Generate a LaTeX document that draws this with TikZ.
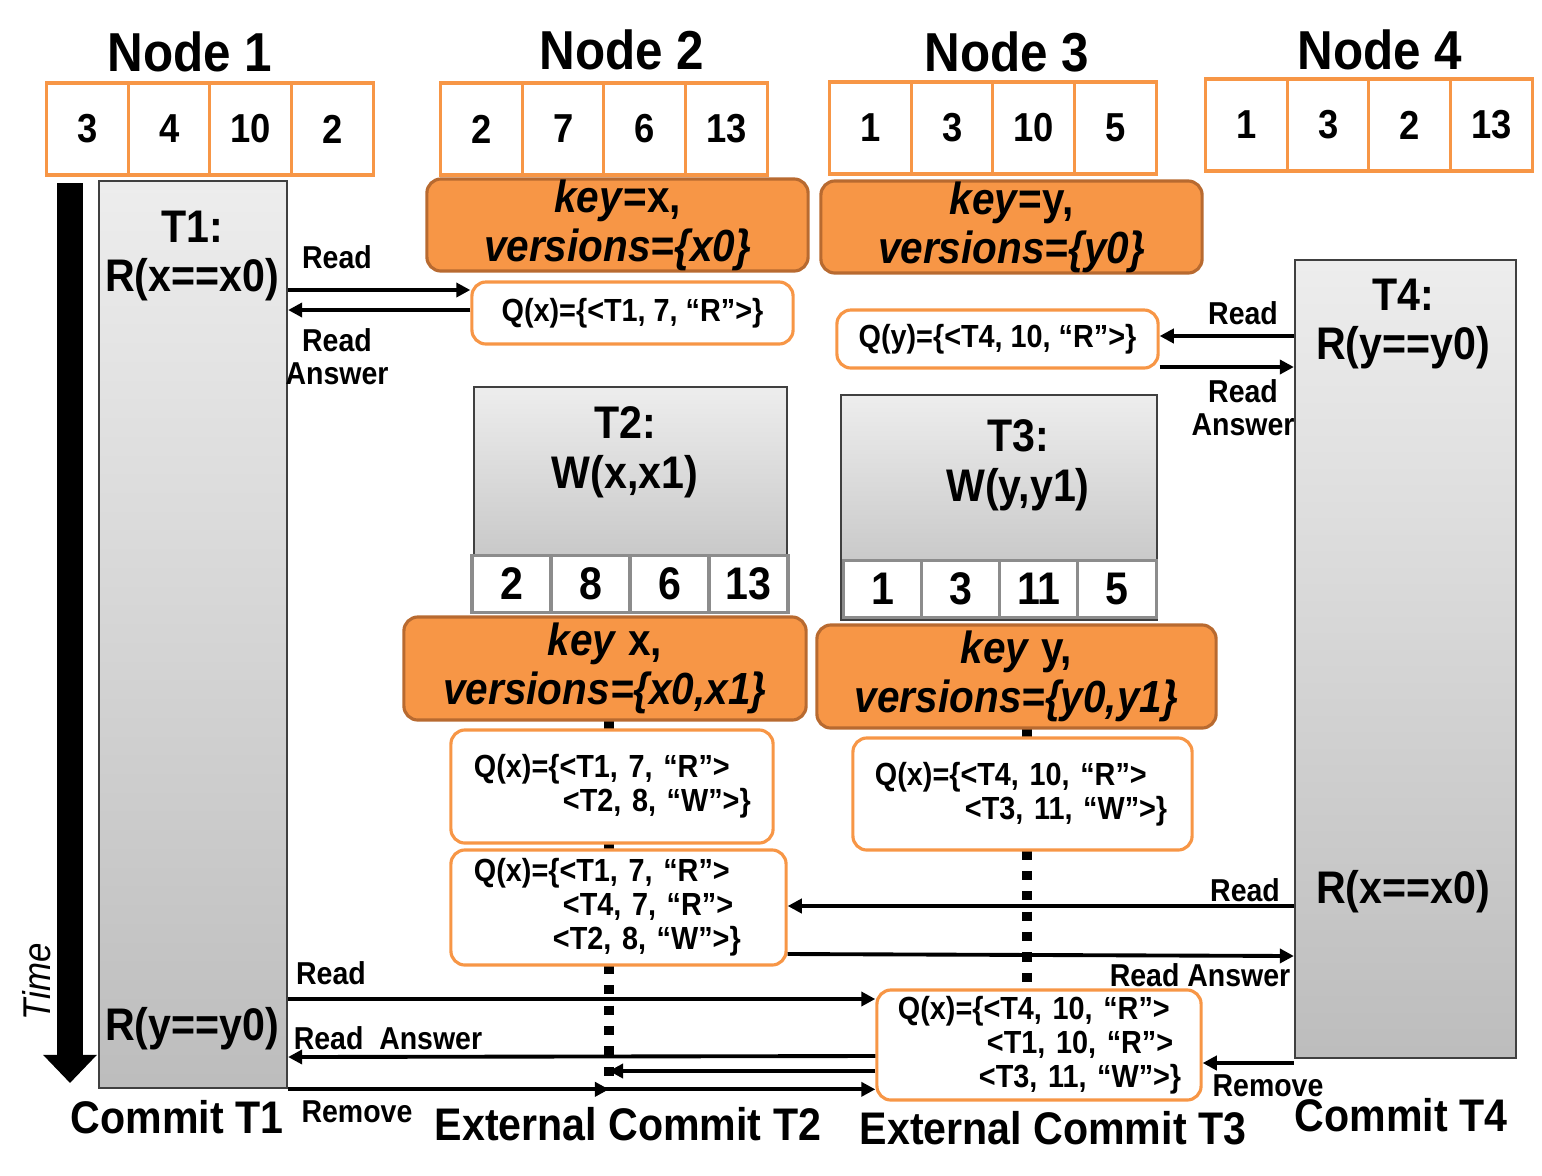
\documentclass[tikz,border=0pt]{standalone}
\usepackage{fontspec}
\setmainfont{Liberation Sans}[FakeStretch=0.9]
\usetikzlibrary{arrows.meta,positioning}

\definecolor{orng}{HTML}{F79646}
\definecolor{orngdark}{HTML}{B86A30}

\tikzset{
  head/.style={font=\bfseries\fontsize{15.6}{18}\selectfont},
  foot/.style={font=\bfseries\fontsize{13}{15}\selectfont},
  cell/.style={draw=orng, line width=0.9pt, fill=white, inner sep=0pt,
    minimum width=8.2mm, minimum height=9.2mm, font=\bfseries\fontsize{11.5}{13}\selectfont},
  tcell/.style={draw=black!45, line width=0.9pt, fill=white, inner sep=0pt,
    minimum width=7.9mm, minimum height=5.7mm, font=\bfseries\fontsize{13}{15}\selectfont},
  txbox/.style={draw=black!75, line width=0.6pt, top color=black!7, bottom color=black!26, inner sep=0pt},
  tlab/.style={align=center, font=\bfseries\fontsize{13}{14.2}\selectfont},
  keybox/.style={draw=orngdark, line width=0.9pt, fill=orng, rounded corners=4pt, inner sep=0pt,
    align=center, font=\bfseries\fontsize{12.8}{13.9}\selectfont},
  qbox/.style={draw=orng, line width=0.9pt, fill=white, rounded corners=4pt, inner sep=0pt,
    font=\bfseries\fontsize{9.1}{9.7}\selectfont},
  qlist/.style={qbox, align=left, inner xsep=1.8mm},
  alab/.style={align=center, font=\bfseries\fontsize{9}{9.4}\selectfont},
  arr/.style={line width=1.1pt, -{Triangle[length=4pt,width=4pt]}},
  syncline/.style={line width=2.6pt, dash pattern=on 2.6pt off 3.2pt},
}

\begin{document}
\begin{tikzpicture}[x=0.01cm,y=-0.01cm]
\useasboundingbox (0,0) rectangle (1542,1175);

% node names
\node[head] (h1) at (190,52) {Node 1};
\node[head] (h2) at (622,50) {Node 2};
\node[head] (h3) at (1007,52) {Node 3};
\node[head] (h4) at (1380,50) {Node 4};

% stored values
\foreach \i/\x/\y/\vals in {1/47/129/{3,4,10,2},2/441/129/{2,7,6,13},3/830/128/{1,3,10,5},4/1206/125/{1,3,2,13}}
  \foreach \v [count=\j] in \vals
    \node[cell] (n\i-\j) at ({\x+81.5*(\j-0.5)},\y) {\v};

% time axis
\coordinate (time0) at (70,183);
\coordinate (time1) at (70,1083);
\draw[line width=7.4pt, -{Triangle[length=8pt,width=14.8pt]}] (time0) -- (time1);
\node[rotate=90, font=\itshape\fontsize{11}{13}\selectfont] (timelab) at (37,982) {Time};

% sync lines
\coordinate (s2top) at (609,720);
\coordinate (s2bot) at (609,1082);
\coordinate (s3top) at (1027,728);
\coordinate (s3bot) at (1027,990);
\draw[syncline] (s2top) -- (s2bot);
\draw[syncline] (s3top) -- (s3bot);

% transactions
\node[txbox, minimum width=18.8mm, minimum height=90.7mm] (t1) at (193,634.5) {};
\node[tlab] (t1a) at (192,256) {T1:\\R(x==x0)};
\node[tlab] (t1b) at (192,1029) {R(y==y0)};

\node[txbox, minimum width=31.3mm, minimum height=22.5mm] (t2) at (630.5,499.5) {};
\node[tlab] (t2a) at (625,452) {T2:\\W(x,x1)};
\foreach \v [count=\j] in {2,8,6,13}
  \node[tcell] (t2-\j) at ({472+79*(\j-0.5)},584) {\v};

\node[txbox, minimum width=31.6mm, minimum height=22.5mm] (t3) at (999,507.5) {};
\node[tlab] (t3a) at (1018,465) {T3:\\W(y,y1)};
\foreach \v [count=\j] in {1,3,11,5}
  \node[tcell] (t3-\j) at ({844+78*(\j-0.5)},589) {\v};

\node[txbox, minimum width=22.1mm, minimum height=79.8mm] (t4) at (1405.5,659) {};
\node[tlab] (t4a) at (1403,324) {T4:\\R(y==y0)};
\node[tlab] (t4b) at (1403,892) {R(x==x0)};

% keys
\node[keybox, minimum width=38.1mm, minimum height=9.2mm] (kx0) at (617.5,225) {\textit{key}=x,\\\textit{versions=\{x0\}}};
\node[keybox, minimum width=38.1mm, minimum height=9.2mm] (ky0) at (1011.5,227) {\textit{key}=y,\\\textit{versions=\{y0\}}};
\node[keybox, minimum width=40.2mm, minimum height=10.3mm] (kx1) at (605,668.5) {\textit{key} x,\\\textit{versions=\{x0,x1\}}};
\node[keybox, minimum width=39.9mm, minimum height=10.3mm] (ky1) at (1016.5,676.5) {\textit{key} y,\\\textit{versions=\{y0,y1\}}};

% queues
\node[qbox, minimum width=32.1mm, minimum height=6.2mm] (q1) at (632.5,313) {Q(x)=\{<T1, 7, “R”>\}};
\node[qbox, minimum width=32.1mm, minimum height=5.8mm] (q2) at (997.5,339) {Q(y)=\{<T4, 10, “R”>\}};
\node[qlist, text width=28.6mm, minimum height=11.3mm] (q3) at (612,786.5)
  {\hspace*{0.5mm}Q(x)=\{<T1, 7, “R”>\\\hspace*{9.4mm}<T2, 8, “W”>\}};
\node[qlist, text width=30.3mm, minimum height=11.2mm] (q4) at (1022.5,794)
  {\hspace*{0.4mm}Q(x)=\{<T4, 10, “R”>\\\hspace*{9.4mm}<T3, 11, “W”>\}};
\node[qlist, text width=29.9mm, minimum height=11.5mm] (q5) at (618.5,907.5)
  {\hspace*{0.5mm}Q(x)=\{<T1, 7, “R”>\\\hspace*{9.4mm}<T4, 7, “R”>\\\hspace*{8.4mm}<T2, 8, “W”>\}};
\node[qlist, text width=28.8mm, minimum height=11mm] (q6) at (1039,1045)
  {\hspace*{0.3mm}Q(x)=\{<T4, 10, “R”>\\\hspace*{9.2mm}<T1, 10, “R”>\\\hspace*{8.4mm}<T3, 11, “W”>\}};

% messages
\draw[arr] (t1.east |- 0,290) -- (q1.west |- 0,290);
\draw[arr] (q1.west |- 0,310) -- (t1.east |- 0,310);
\node[alab] (m1) at (337,257) {Read};
\node[alab] (m2) at (337,357) {Read\\Answer};

\draw[arr] (t4.west |- 0,336) -- (q2.east |- 0,336);
\draw[arr] (q2.east |- 0,367) -- (t4.west |- 0,367);
\node[alab] (m3) at (1243,313) {Read};
\node[alab] (m4) at (1243,408) {Read\\Answer};

\draw[arr] (t4.west |- 0,906) -- (q5.east |- 0,906);
\draw[arr] (q5.east |- 0,954) -- (t4.west |- 0,956);
\node[alab] (m5) at (1245,890) {Read};
\node[alab] (m6) at (1200,975) {Read Answer};

\draw[arr] (t1.east |- 0,999) -- (q6.west |- 0,999);
\draw[arr] (q6.west |- 0,1056) -- (t1.east |- 0,1057);
\draw[arr] (q6.west |- 0,1071) -- (s2bot |- 0,1071);
\draw[arr] (t1.south east) -- (s2bot |- t1.south east);
\draw[arr] (t1.south east) -- (q6.west |- t1.south east);
\node[alab] (m7) at (331,973) {Read};
\node[alab] (m8) at (388,1038) {Read\ \ Answer};
\node[alab] (m9) at (357,1112) {Remove};

\draw[arr] (t4.west |- 0,1063) -- (q6.east |- 0,1063);
\node[alab] (m10) at (1268,1086) {Remove};

% commits
\node[foot] (c1) at (177,1117) {Commit T1};
\node[foot] (c2) at (628,1124) {External Commit T2};
\node[foot] (c3) at (1053,1128) {External Commit T3};
\node[foot] (c4) at (1401,1115) {Commit T4};
\end{tikzpicture}
\end{document}
